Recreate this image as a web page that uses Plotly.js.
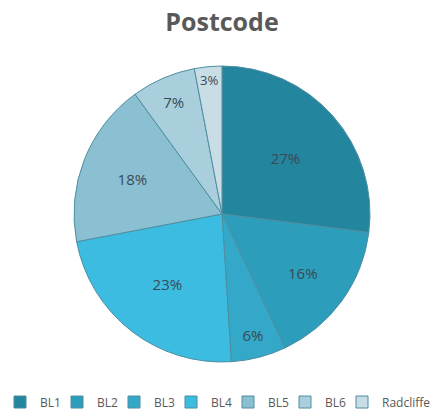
<!DOCTYPE html>
<html>
<head>
<meta charset="utf-8">
<script src="https://cdn.plot.ly/plotly-3.0.1.min.js"></script>
<style>html,body{margin:0;padding:0;background:#fff;}#chart{width:444px;height:410px;}</style>
</head>
<body>
<div id="chart"></div>
<script>
const categories = ["BL1", "BL2", "BL3", "BL4", "BL5", "BL6", "Radcliffe"];
const shares = [27, 16, 6, 23, 18, 7, 3];
const sliceColors = ["#24859f", "#2c9dbb", "#33a8c8", "#3bbce0", "#8bbfd2", "#a9cfdd", "#c8dde6"];

const trace = {
  type: "pie",
  labels: categories,
  values: shares,
  sort: false,
  direction: "clockwise",
  rotation: 0,
  textinfo: "percent",
  textposition: "inside",
  insidetextorientation: "horizontal",
  texttemplate: "%{percent:.0%}",
  textfont: {family: "Open Sans, sans-serif", size: 15, color: "#3a4a55"},
  marker: {colors: sliceColors, line: {color: "#4f8ea0", width: 1}},
  hoverinfo: "label+percent",
  showlegend: true
};

// invisible spacer title: only widens the legend box so the last entry is not clipped
const spacer = "\u00a0".repeat(1700);

const layout = {
  width: 444,
  height: 410,
  margin: {l: 0, r: 0, t: 66, b: 48},
  paper_bgcolor: "#ffffff",
  title: {
    text: "<b>Postcode</b>",
    font: {family: "Open Sans, sans-serif", size: 25, color: "#595959"},
    x: 0.5, xanchor: "center",
    yref: "container", y: 0.945, yanchor: "middle"
  },
  legend: {
    orientation: "h",
    x: 0, xanchor: "left",
    yref: "container", y: 0.058, yanchor: "top",
    font: {family: "Open Sans, sans-serif", size: 12, color: "#595959"},
    title: {text: spacer, side: "top", font: {size: 1, color: "rgba(0,0,0,0)"}},
    entrywidth: 12,
    entrywidthmode: "pixels",
    tracegroupgap: 0,
    traceorder: "normal"
  }
};

Plotly.newPlot("chart", [trace], layout, {staticPlot: true, displayModeBar: false});
</script>
</body>
</html>
